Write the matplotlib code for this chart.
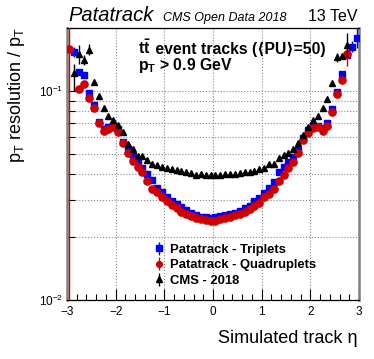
import numpy as np
import matplotlib
matplotlib.use("Agg")
import matplotlib.pyplot as plt
from matplotlib.ticker import MultipleLocator, LogLocator, NullFormatter

plt.rcParams['font.family'] = ['Liberation Sans', 'DejaVu Sans']
plt.rcParams['mathtext.fontset'] = 'custom'
plt.rcParams['mathtext.rm'] = 'Liberation Sans'
plt.rcParams['mathtext.it'] = 'Liberation Sans:italic'
plt.rcParams['mathtext.bf'] = 'Liberation Sans:bold'

nan = np.nan
# bin centres in eta (60 bins of width 0.1)
eta = np.round(np.arange(-2.95, 3.0, 0.1), 2)

triplets = [nan, 0.154, 0.1229, 0.1194, 0.0982, 0.0857, 0.0713, 0.0658, 0.0673, 0.0680,
            0.0655, 0.0571, 0.0530, 0.0490, 0.0456, 0.0427, 0.0399, 0.0374, 0.0345, 0.0330,
            0.0312, 0.0299, 0.0288, 0.0277, 0.0269, 0.0262, 0.0255, 0.0250, 0.0249, 0.0248,
            0.0249, 0.0251, 0.0255, 0.0258, 0.0262, 0.0267, 0.0275, 0.0282, 0.0296, 0.0306,
            0.0324, 0.0342, 0.0368, 0.0411, 0.0435, 0.0459, 0.0482, 0.0523, 0.0594, 0.0651,
            0.0680, 0.0680, 0.0663, 0.0700, 0.0820, 0.0993, 0.1205, 0.148, 0.163, 0.179]

quadruplets = [0.158, nan, 0.1019, 0.1076, 0.0929, 0.0826, 0.0700, 0.0644, 0.0658, 0.0670,
               0.0638, 0.0562, 0.0507, 0.0463, 0.0435, 0.0411, 0.0372, 0.0339, 0.0328, 0.0310,
               0.0298, 0.0284, 0.0275, 0.0265, 0.0259, 0.0253, 0.0248, 0.0243, 0.0241, 0.0240,
               0.0239, 0.0243, 0.0248, 0.0250, 0.0254, 0.0259, 0.0265, 0.0272, 0.0283, 0.0291,
               0.0310, 0.0322, 0.0339, 0.0370, 0.0396, 0.0427, 0.0456, 0.0507, 0.0583, 0.0631,
               0.0663, 0.0670, 0.0644, 0.0680, 0.0791, 0.0968, 0.113, 0.150, nan, nan]

cms2018 = [nan, 0.1216, 0.150, 0.1407, 0.157, 0.110, 0.095, 0.0832, 0.0762, 0.0726,
           0.0687, 0.0638, 0.0555, 0.0525, 0.0490, 0.0490, 0.0465, 0.0448, 0.0443, 0.0435,
           0.0430, 0.0425, 0.0420, 0.0415, 0.0410, 0.0405, 0.0398, 0.0400, 0.0396, 0.0395,
           0.0396, 0.0397, 0.0400, 0.0400, 0.0402, 0.0407, 0.0410, 0.0410, 0.0413, 0.0425,
           0.0428, 0.0445, 0.0448, 0.0477, 0.0494, 0.0503, 0.0526, 0.0562, 0.0616, 0.0675,
           0.0726, 0.0762, 0.0826, 0.0915, 0.1089, 0.145, 0.147, 0.166, nan, nan]

# error bar ranges (low, high) for bins where the bars are visible
triplets_err = {1: (0.146, 0.163), 58: (0.153, 0.174), 59: (0.160, 0.25)}
quadruplets_err = {0: (0.005, 0.3), 57: (0.131, 0.168)}
cms_err = {1: (0.100, 0.135), 2: (0.135, 0.165), 3: (0.133, 0.149), 4: (0.148, 0.167),
           55: (0.138, 0.152), 57: (0.145, 0.19)}

labels = ["Patatrack - Triplets", "Patatrack - Quadruplets", "CMS - 2018"]
xticks = [-3, -2, -1, 0, 1, 2, 3]
xticklabels = ["\u22123", "\u22122", "\u22121", "0", "1", "2", "3"]


def yerr_from(vals, errs):
    vals = np.asarray(vals, float)
    lo = np.zeros_like(vals)
    hi = np.zeros_like(vals)
    for k, (a, b) in errs.items():
        lo[k] = vals[k] - a
        hi[k] = b - vals[k]
    return np.vstack([lo, hi])


W, H = 374, 359
fig = plt.figure(figsize=(W / 100, H / 100), dpi=100)
ax = fig.add_axes([67 / W, 1 - 300 / H, (359 - 67) / W, (300 - 28) / H])

ax.errorbar(eta, triplets, yerr=yerr_from(triplets, triplets_err), fmt='s', color='#0000ff',
            ms=4.6, mec='#0000ff', elinewidth=1, capsize=0, label=labels[0], zorder=3)
ax.errorbar(eta, quadruplets, yerr=yerr_from(quadruplets, quadruplets_err), fmt='o', color='#d10000',
            ms=5.2, mec='#d10000', elinewidth=1, capsize=0, label=labels[1], zorder=4)
ax.errorbar(eta, cms2018, yerr=yerr_from(cms2018, cms_err), fmt='^', color='black',
            ms=5.0, elinewidth=1, capsize=0, label=labels[2], zorder=5)

ax.set_yscale('log')
ax.set_xlim(-3, 3)
ax.set_ylim(0.01, 0.2)

ax.set_xticks(xticks)
ax.set_xticklabels(xticklabels)
ax.xaxis.set_minor_locator(MultipleLocator(0.2))
ax.yaxis.set_major_locator(LogLocator(base=10, numticks=10))
ax.yaxis.set_minor_locator(LogLocator(base=10, subs=np.arange(2, 10), numticks=20))
ax.yaxis.set_minor_formatter(NullFormatter())

ax.tick_params(axis='both', which='both', direction='in', top=False, right=False,
               labelsize=8.5, colors='black')
ax.tick_params(axis='x', which='major', length=8, width=0.8, pad=4)
ax.tick_params(axis='x', which='minor', length=4, width=0.8)
ax.tick_params(axis='y', which='major', length=11, width=0.8, pad=3)
ax.tick_params(axis='y', which='minor', length=6, width=0.8)

ax.grid(True, which='major', axis='x', linestyle=':', color='#888888', lw=0.8)
ax.grid(True, which='both', axis='y', linestyle=':', color='#888888', lw=0.8)

for s in ['left', 'right']:
    ax.spines[s].set_color('#808080')
    ax.spines[s].set_linewidth(1.8)
for s in ['top', 'bottom']:
    ax.spines[s].set_color('black')
    ax.spines[s].set_linewidth(0.9)

# titles
fig.text(68 / W, 1 - 21 / H, "Patatrack", fontsize=14.5, style='italic', va='baseline', ha='left')
fig.text(163 / W, 1 - 21 / H, "CMS Open Data 2018", fontsize=9, style='italic', va='baseline', ha='left')
fig.text(357 / W, 1 - 21 / H, "13 TeV", fontsize=11.5, va='baseline', ha='right')

tx = (138 - 67) / (359 - 67)
ty1 = 1 - (54 - 28) / 272
t1 = ax.text(tx, ty1, r"$\mathbf{t\bar{t}}$",
             transform=ax.transAxes, fontsize=11.3, fontweight='bold', va='baseline', ha='left')
fig.canvas.draw()
bb = t1.get_window_extent()
x_after = ax.transAxes.inverted().transform((bb.x1, bb.y0))[0]
ax.text(x_after, ty1, " event tracks (\u27e8PU\u27e9=50)", transform=ax.transAxes,
        fontsize=11.3, fontweight='bold', va='baseline', ha='left',
        family=['Liberation Sans', 'DejaVu Sans'])
ax.text(tx, 1 - (70 - 28) / 272, r"$\mathbf{p_T}$ > 0.9 GeV",
        transform=ax.transAxes, fontsize=11.3, fontweight='bold', va='baseline', ha='left')

fig.text(357 / W, 1 - 343 / H, "Simulated track \u03b7", fontsize=13, ha='right', va='baseline')
fig.text(17 / W, 1 - 27 / H, r"p$_\mathrm{T}$ resolution / p$_\mathrm{T}$", fontsize=13,
         rotation=90, ha='center', va='top')

leg = ax.legend(loc='lower left', bbox_to_anchor=((147 - 67) / (359 - 67), (300 - 292) / 272),
                frameon=False, prop={'weight': 'bold', 'size': 9.4}, handletextpad=0.4,
                handlelength=1.0, labelspacing=0.25, markerscale=0.8, borderaxespad=0)

fig.savefig("out.png", dpi=100)
